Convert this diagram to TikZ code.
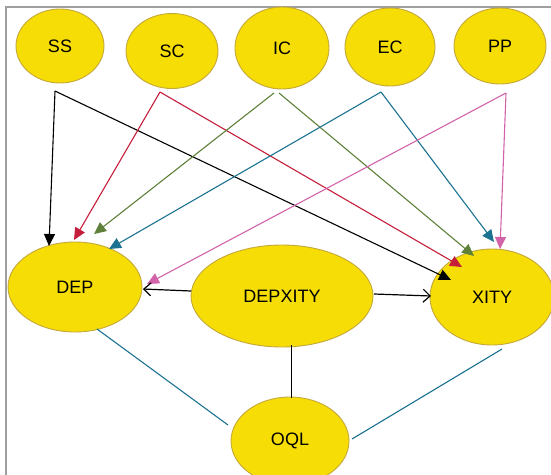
\documentclass[tikz,border=0pt]{standalone}
\usepackage{fontspec}
\setmainfont{Liberation Sans}
\usetikzlibrary{arrows.meta,shapes.geometric}
\definecolor{fillY}{HTML}{F6DD05}
\definecolor{edgeY}{HTML}{C4A83A}
\definecolor{cRed}{HTML}{C41E3A}
\definecolor{cGreen}{HTML}{5E8039}
\definecolor{cBlue}{HTML}{1B7391}
\definecolor{cPink}{HTML}{D263AA}
\tikzset{
 ell/.style={ellipse, draw=edgeY, fill=fillY, line width=0.9pt, inner sep=0pt, font=\fontsize{18}{21}\selectfont},
 tri/.style={-{Triangle[length=12pt,width=11pt]}, line width=1.1pt},
 openarr/.style={-{Straight Barb[length=7pt,width=13pt]}, line width=1.2pt},
 link/.style={cBlue, line width=1.1pt},
}
\begin{document}
\begin{tikzpicture}[x=1pt,y=-1pt]
\useasboundingbox (0,0) rectangle (551,474);
\clip (0,0) rectangle (551,474);
\draw[gray!75, line width=1.6pt] (6,480) -- (6,7) -- (560,7);
% nodes
\node[ell, minimum width=88pt, minimum height=74pt] (SS) at (60,46) {SS};
\node[ell, minimum width=92pt, minimum height=75pt] (SC) at (172,51) {SC};
\node[ell, minimum width=94pt, minimum height=82pt] (IC) at (282,48) {IC};
\node[ell, minimum width=90pt, minimum height=78pt] (EC) at (390,47) {EC};
\node[ell, minimum width=92pt, minimum height=76pt] (PP) at (500,46) {PP};
\node[ell, minimum width=134pt, minimum height=90pt] (DEP) at (75,287) {DEP};
\node[ell, minimum width=182pt, minimum height=102pt] (DX) at (282,296) {DEPXITY};
\node[ell, minimum width=124pt, minimum height=96pt] (XITY) at (492,297) {XITY};
\node[ell, minimum width=118pt, minimum height=88pt] (OQL) at (290,441) {OQL};
% start points
\coordinate (ssA) at (55,91);
\coordinate (scA) at (160,92);
\coordinate (icA) at (274,93);
\coordinate (icB) at (279,93);
\coordinate (ecA) at (381,92);
\coordinate (ppA) at (506,93);
% tips at DEP
\coordinate (dSS) at (49,246);
\coordinate (dSC) at (74,240);
\coordinate (dIC) at (94,234);
\coordinate (dEC) at (109,249);
\coordinate (dPP) at (147,284);
% tips at XITY
\coordinate (xSS) at (451,280);
\coordinate (xSC) at (462,267);
\coordinate (xIC) at (474,256);
\coordinate (xEC) at (494,242);
\coordinate (xPP) at (500,249);
% arrows
\draw[tri, black] (ssA) -- (dSS);
\draw[tri, black] (ssA) -- (xSS);
\draw[tri, cRed] (scA) -- (dSC);
\draw[tri, cRed] (scA) -- (xSC);
\draw[tri, cGreen] (icA) -- (dIC);
\draw[tri, cGreen] (icB) -- (xIC);
\draw[tri, cBlue] (ecA) -- (dEC);
\draw[tri, cBlue] (ecA) -- (xEC);
\draw[tri, cPink] (ppA) -- (dPP);
\draw[tri, cPink] (ppA) -- (xPP);
% DEPXITY arrows
\coordinate (dxL) at (191,291);
\coordinate (depR) at (143,289);
\coordinate (dxR) at (374,294);
\coordinate (xL) at (431,296);
\draw[openarr] (dxL) -- (depR);
\draw[openarr] (dxR) -- (xL);
% links to OQL
\coordinate (depB) at (97,329);
\coordinate (oqlL) at (228,425);
\coordinate (dxB) at (291,345);
\coordinate (oqlT) at (291,398);
\coordinate (xB) at (502,349);
\coordinate (oqlR) at (352,439);
\draw[link] (depB) -- (oqlL);
\draw[link] (xB) -- (oqlR);
\draw[black, line width=1pt] (dxB) -- (oqlT);
\end{tikzpicture}
\end{document}
